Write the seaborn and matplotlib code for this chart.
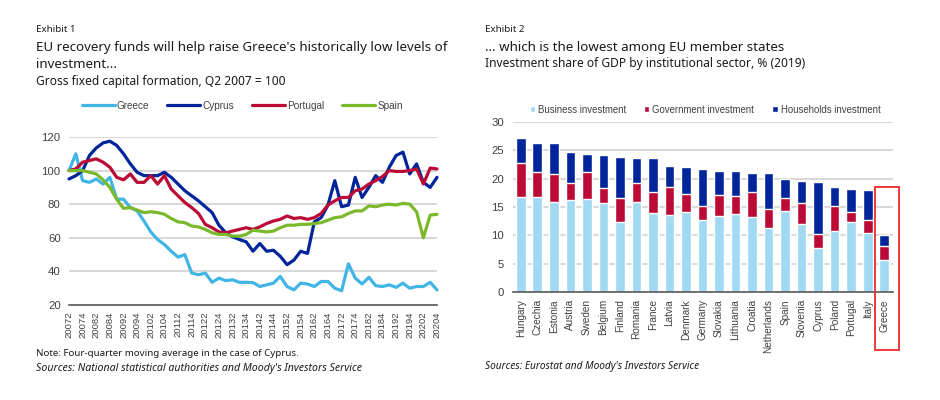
import pandas as pd
import seaborn as sns
import matplotlib.pyplot as plt
from matplotlib.patches import Rectangle

quarters = [f'{y}{q}' for y in range(2007, 2021) for q in range(1, 5)][1:]

greece = [100, 110, 94, 93, 95, 92, 96, 83, 83, 78, 76, 70, 63.5, 59, 56, 52, 48.5, 50, 39, 38,
          39, 33.5, 36, 34.5, 35, 33.5, 33.5, 33.3, 31, 32, 33, 37, 31, 29, 33, 32.5, 31, 34, 34,
          30, 28.5, 44.5, 36, 32.5, 36.5, 31.5, 31, 32, 30.5, 33, 30, 31, 31, 33.5, 29]
cyprus = [95, 97, 100, 109, 113.5, 116.5, 117.5, 115, 110, 104, 99, 97, 97, 97, 99, 96, 92, 88,
          85, 82, 78.5, 75, 67.5, 63, 60.6, 59, 57.6, 52, 56.6, 52, 52.6, 49, 44, 46.7, 52, 50.7,
          69.5, 72, 79.5, 94, 78.5, 79.5, 96, 84, 90, 97, 93, 102, 109, 111, 98, 104, 93, 90, 96]
portugal = [100, 101, 105, 106, 107, 105, 102, 96, 94.5, 98, 93, 93, 97, 92, 97, 89, 85, 81, 78,
            74.5, 68, 66, 63.5, 63, 64, 65, 66, 65, 66.5, 68.5, 70, 71, 73, 71.5, 72, 71, 72, 74.5,
            79.5, 82, 84, 84, 88, 89, 92, 94, 96.5, 100, 99.5, 99.5, 100, 101, 92, 101.5, 101]
spain = [100, 100, 100, 99, 98, 94.5, 90, 83, 77.5, 78, 76.5, 75, 75.5, 75, 74, 71.5, 69.5, 69,
         67, 66.5, 65, 63, 62, 62, 61, 61, 62, 64.5, 64, 63.5, 64, 66, 67.5, 67.5, 68, 68, 68.5,
         69, 70.5, 72, 72.5, 74.5, 76, 76, 79, 78.5, 79.5, 80, 79.5, 80.5, 80, 75.5, 60, 73.5, 74]

countries = ['Hungary', 'Czechia', 'Estonia', 'Austria', 'Sweden', 'Belgium', 'Finland', 'Romania',
             'France', 'Latvia', 'Denmark', 'Germany', 'Slovakia', 'Lithuania', 'Croatia',
             'Netherlands', 'Spain', 'Slovenia', 'Cyprus', 'Poland', 'Portugal', 'Italy', 'Greece']
business = [16.7, 16.8, 15.9, 16.2, 16.35, 15.75, 12.35, 15.8, 14.0, 13.65, 14.05, 12.7, 13.5, 13.8,
            13.3, 11.25, 14.35, 11.95, 7.8, 10.85, 12.3, 10.4, 5.7]
government = [6.1, 4.35, 4.95, 3.1, 4.8, 2.65, 4.25, 3.5, 3.6, 4.95, 3.25, 2.5, 3.6, 3.1, 4.3, 3.35,
              2.15, 3.8, 2.45, 4.35, 1.9, 2.3, 2.45]
households = [4.4, 5.05, 5.35, 5.35, 3.25, 5.7, 7.25, 4.3, 6.0, 3.55, 4.65, 6.5, 4.3, 4.4, 3.4, 6.4,
              3.35, 3.85, 9.15, 3.3, 4.0, 5.3, 1.95]

LINE_COLORS = {'Greece': '#41b6e6', 'Cyprus': '#00259b', 'Portugal': '#bb0a35', 'Spain': '#7ab929'}
BAR_COLORS = {'Business investment': '#a1d9f2', 'Government investment': '#bb0a35',
              'Households investment': '#00259b'}
TEXT = '#1a1a1a'
AXIS_TEXT = '#404040'
W, H = 940, 400


def axes_box(x0, x1, y_top, y_bottom):
    return [x0 / W, 1 - y_bottom / H, (x1 - x0) / W, (y_bottom - y_top) / H]


def add_text(fig, x, y, s, size=9.6, **kw):
    fig.text(x / W, 1 - y / H, s, fontsize=size, color=TEXT, va='center', **kw)


def style_axes(ax):
    ax.grid(axis='y', color='#d9d9d9', lw=1.5)
    ax.grid(axis='x', visible=False)
    ax.set_axisbelow(True)
    ax.set_xlabel('')
    ax.set_ylabel('')
    for side in ['top', 'right', 'left']:
        ax.spines[side].set_visible(False)
    ax.spines['bottom'].set_color('#595959')
    ax.spines['bottom'].set_linewidth(1.2)
    ax.tick_params(axis='y', length=0, labelsize=8.2, labelcolor=AXIS_TEXT, pad=6)


def draw_lines(ax):
    series = {'Greece': greece, 'Cyprus': cyprus, 'Portugal': portugal, 'Spain': spain}
    frames = [pd.DataFrame({'quarter': range(len(vals)), 'value': vals, 'country': name})
              for name, vals in series.items()]
    df = pd.concat(frames)
    sns.lineplot(data=df, x='quarter', y='value', hue='country', palette=LINE_COLORS,
                 linewidth=2.3, ax=ax, solid_joinstyle='round', solid_capstyle='round', clip_on=False)
    ax.set_xlim(0, len(quarters) - 1)
    ax.set_ylim(20, 120)
    ax.set_yticks(range(20, 121, 20))
    style_axes(ax)
    ax.set_xticks(range(0, len(quarters), 2))
    ax.set_xticklabels(quarters[::2], rotation=90, fontsize=6.8, color=AXIS_TEXT)
    ax.set_xticks(range(len(quarters)), minor=True)
    ax.tick_params(axis='x', which='both', length=2.5, width=0.8, color='#595959', pad=2)
    ax.legend(loc='center left', bbox_to_anchor=(0.035, 1.185), ncol=4, frameon=False, fontsize=7.2,
              handlelength=3.3, handletextpad=0.2, columnspacing=1.8, labelcolor=AXIS_TEXT,
              borderaxespad=0, borderpad=0)


def draw_bars(ax):
    df = pd.DataFrame({'country': countries, 'business': business,
                       'government': government, 'households': households})
    df['mid'] = df['business'] + df['government']
    df['total'] = df['mid'] + df['households']
    # stack by painting the tallest layer first
    layers = [('total', 'Households investment'), ('mid', 'Government investment'),
              ('business', 'Business investment')]
    for col, label in layers:
        sns.barplot(data=df, x='country', y=col, color=BAR_COLORS[label], width=0.58,
                    saturation=1, ax=ax, label=label)
    ax.set_xlim(-0.5, len(countries) - 0.5)
    ax.set_ylim(0, 30)
    ax.set_yticks(range(0, 31, 5))
    style_axes(ax)
    ax.tick_params(axis='x', length=0, labelrotation=90, labelsize=7.2, labelcolor=AXIS_TEXT, pad=5)
    handles, labels = ax.get_legend_handles_labels()
    ax.legend(handles[::-1], labels[::-1], loc='center left', bbox_to_anchor=(0.045, 1.07), ncol=3,
              frameon=False, fontsize=6.9, handlelength=0.55, handleheight=0.55, handletextpad=0.3,
              columnspacing=1.9, labelcolor=AXIS_TEXT, borderaxespad=0, borderpad=0)


def main():
    sns.set_theme(style='white')
    plt.rcParams['font.family'] = ['Liberation Sans', 'DejaVu Sans']

    fig = plt.figure(figsize=(W / 100, H / 100), dpi=100)
    ax_left = fig.add_axes(axes_box(69, 437, 137, 305))
    ax_right = fig.add_axes(axes_box(512.5, 892.5, 121.7, 292.3))
    draw_lines(ax_left)
    draw_bars(ax_right)

    fig.add_artist(Rectangle((874.5 / W, 1 - 350 / H), 24.5 / W, 163.5 / H, fill=False,
                             edgecolor='#ee2a2a', lw=1.3, transform=fig.transFigure))

    head = 'Noto Sans'
    add_text(fig, 36, 30, 'Exhibit 1', size=7.0, family=head)
    add_text(fig, 36, 47, "EU recovery funds will help raise Greece's historically low levels of", family=head)
    add_text(fig, 36, 64, 'investment...', family=head)
    add_text(fig, 36, 82, 'Gross fixed capital formation, Q2 2007 = 100', size=8.6, family=head)
    add_text(fig, 36, 354, 'Note: Four-quarter moving average in the case of Cyprus.', size=7.0, family=head)
    add_text(fig, 36, 368, "Sources: National statistical authorities and Moody's Investors Service",
             size=7.6, family=head, style='italic')

    add_text(fig, 485, 30, 'Exhibit 2', size=7.0, family=head)
    add_text(fig, 485, 48, '… which is the lowest among EU member states', family=head)
    add_text(fig, 485, 64, 'Investment share of GDP by institutional sector, % (2019)', size=8.6, family=head)
    add_text(fig, 485, 367, "Sources: Eurostat and Moody's Investors Service", size=7.25, family=head, style='italic')

    fig.savefig('out.png', dpi=100)


if __name__ == '__main__':
    main()
